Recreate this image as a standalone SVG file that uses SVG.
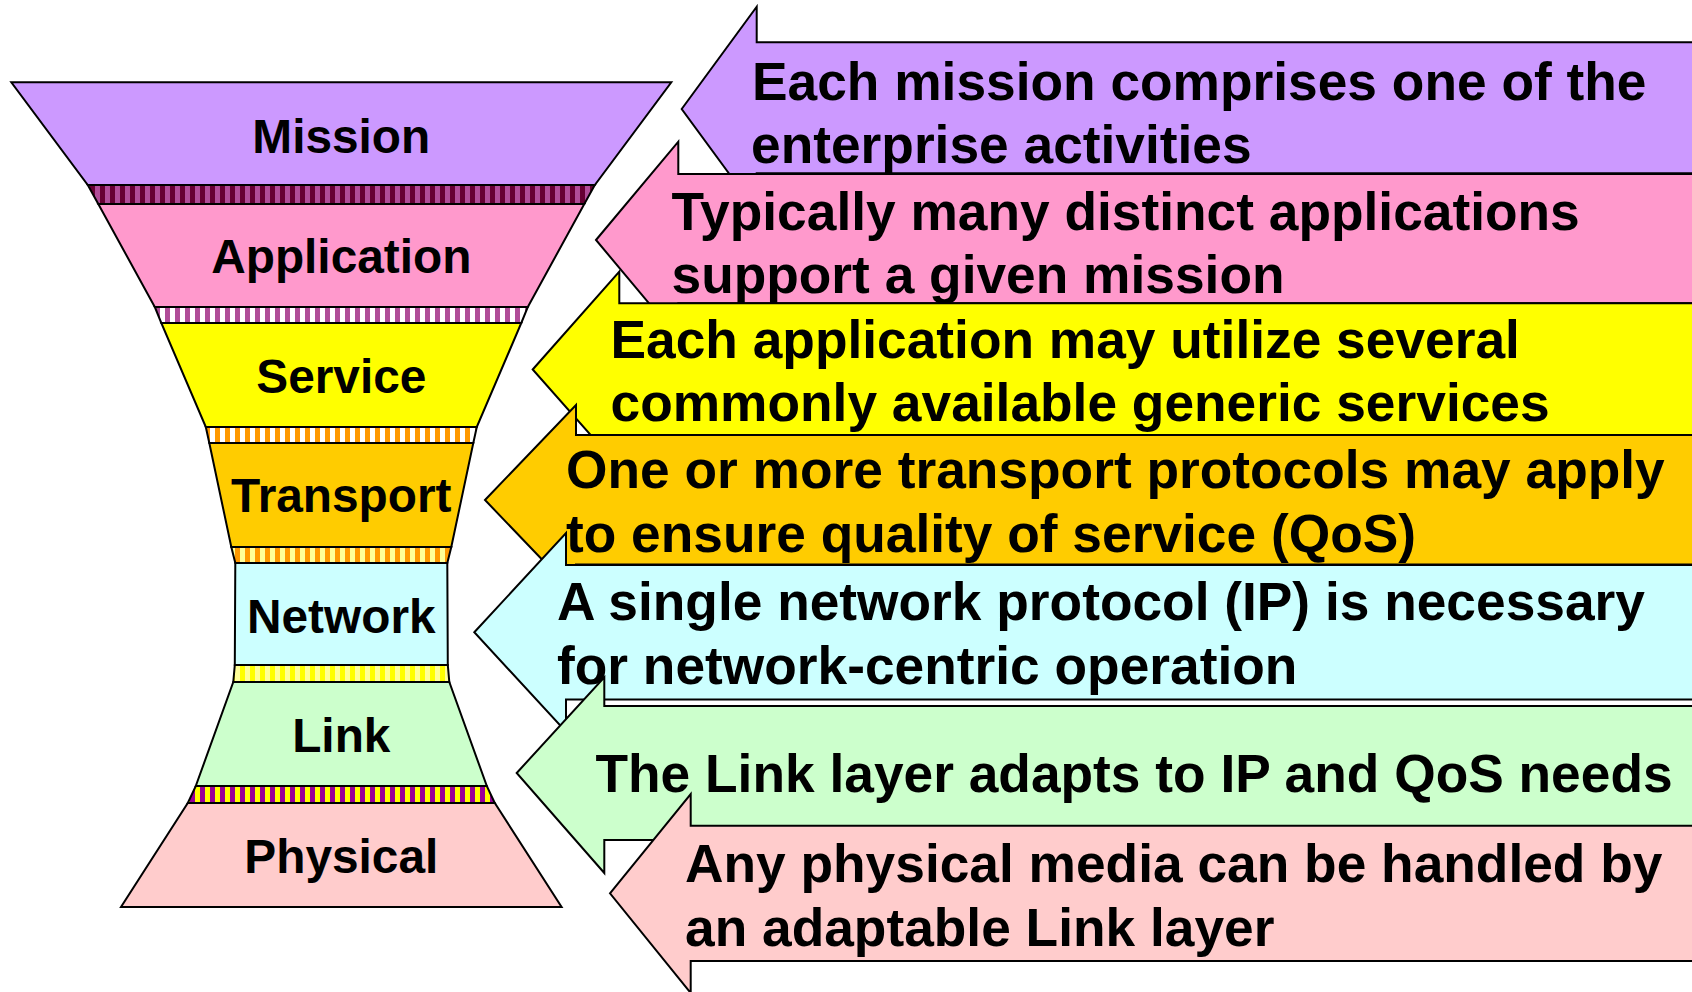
<svg xmlns="http://www.w3.org/2000/svg" width="1692" height="992" viewBox="0 0 1692 992">
<defs>
<style>
.ln{stroke:#000;stroke-width:2;stroke-linejoin:miter}
.lbl{font-family:"Liberation Sans",Arial,sans-serif;font-weight:bold;font-size:47.8px;fill:#000;text-anchor:middle}
.txt{font-family:"Liberation Sans",Arial,sans-serif;font-weight:bold;font-size:53.3px;fill:#000}
</style>
<pattern id="s1" patternUnits="userSpaceOnUse" width="10" height="10"><rect width="5" height="10" fill="#660033"/><rect x="5" width="5" height="10" fill="#B04C98"/></pattern>
<pattern id="s2" patternUnits="userSpaceOnUse" width="10" height="10"><rect width="5" height="10" fill="#FFFFFF"/><rect x="5" width="5" height="10" fill="#B04C98"/></pattern>
<pattern id="s3" patternUnits="userSpaceOnUse" width="10" height="10"><rect width="5" height="10" fill="#FFFFFF"/><rect x="5" width="5" height="10" fill="#FF9900"/></pattern>
<pattern id="s4" patternUnits="userSpaceOnUse" width="10" height="10"><rect width="5" height="10" fill="#FFFF99"/><rect x="5" width="5" height="10" fill="#FF9900"/></pattern>
<pattern id="s5" patternUnits="userSpaceOnUse" width="10" height="10"><rect width="5" height="10" fill="#FFFF00"/><rect x="5" width="5" height="10" fill="#FFFF99"/></pattern>
<pattern id="s6" patternUnits="userSpaceOnUse" width="10" height="10"><rect width="5" height="10" fill="#990099"/><rect x="5" width="5" height="10" fill="#FFFF00"/></pattern>
</defs>
<rect width="1692" height="992" fill="#FFFFFF"/>

<g id="funnel">
<g id="layer-mission"><polygon class="ln" fill="#CC99FF" points="11.3,82.3 671.3,82.3 594.8,185 87.8,185"/><text class="lbl" x="341.3" y="153">Mission</text></g>
<g id="band-1"><polygon class="ln" fill="url(#s1)" points="87.8,185 594.8,185 584.3,204 98.3,204"/></g>
<g id="layer-application"><polygon class="ln" fill="#FF99CC" points="98.3,204 584.3,204 527.8,307 154.8,307"/><text class="lbl" x="341.3" y="273">Application</text></g>
<g id="band-2"><polygon class="ln" fill="url(#s2)" points="154.8,307 527.8,307 521.3,323 161.3,323"/></g>
<g id="layer-service"><polygon class="ln" fill="#FFFF00" points="161.3,323 521.3,323 476.8,427 205.8,427"/><text class="lbl" x="341.3" y="392.7">Service</text></g>
<g id="band-3"><polygon class="ln" fill="url(#s3)" points="205.8,427 476.8,427 473.3,443 209.3,443"/></g>
<g id="layer-transport"><polygon class="ln" fill="#FFCC00" points="209.3,443 473.3,443 451.3,547 231.3,547"/><text class="lbl" x="341.3" y="511.7">Transport</text></g>
<g id="band-4"><polygon class="ln" fill="url(#s4)" points="231.3,547 451.3,547 447.3,563 235.3,563"/></g>
<g id="layer-network"><polygon class="ln" fill="#CCFFFF" points="235.3,563 447.3,563 447.8,665 234.8,665"/><text class="lbl" x="341.3" y="632.7">Network</text></g>
<g id="band-5"><polygon class="ln" fill="url(#s5)" points="234.8,665 447.8,665 449.3,682 233.3,682"/></g>
<g id="layer-link"><polygon class="ln" fill="#CCFFCC" points="233.3,682 449.3,682 486.8,786 195.8,786"/><text class="lbl" x="341.3" y="751.7">Link</text></g>
<g id="band-6"><polygon class="ln" fill="url(#s6)" points="195.8,786 486.8,786 494.8,803 187.8,803"/></g>
<g id="layer-physical"><polygon class="ln" fill="#FFCCCC" points="187.8,803 494.8,803 561.6,907 121,907"/><text class="lbl" x="341.3" y="872.7">Physical</text></g>
</g>

<g id="arrow-mission"><polygon class="ln" fill="#CC99FF" points="681.7,109 756.7,6.7 756.7,42.3 1710,42.3 1710,173.3 756.7,173.3 756.7,211.3"/>
<text class="txt" x="752" y="100">Each mission comprises one of the</text>
<text class="txt" x="751" y="162.7">enterprise activities</text></g>

<g id="arrow-application"><polygon class="ln" fill="#FF99CC" points="596,240 678.3,141.7 678.3,174 1710,174 1710,303.3 678.3,303.3 678.3,338.3"/>
<text class="txt" x="671.5" y="230">Typically many distinct applications</text>
<text class="txt" x="671.5" y="293.3">support a given mission</text></g>

<g id="arrow-service"><polygon class="ln" fill="#FFFF00" points="532.7,369.5 619.3,271.7 619.3,303.3 1710,303.3 1710,435 619.3,435 619.3,467.3"/>
<text class="txt" x="610.5" y="358.3">Each application may utilize several</text>
<text class="txt" x="610.5" y="421">commonly available generic services</text></g>

<g id="arrow-transport"><polygon class="ln" fill="#FFCC00" points="485,500 576,405 576,435 1710,435 1710,564.5 576,564.5 576,595"/>
<text class="txt" x="566" y="487.5">One or more transport protocols may apply</text>
<text class="txt" x="566" y="551.7">to ensure quality of service (QoS)</text></g>

<g id="arrow-network"><polygon class="ln" fill="#CCFFFF" points="474.3,632.3 566,533 566,565 1710,565 1710,699.5 566,699.5 566,731.6"/>
<text class="txt" x="557" y="620">A single network protocol (IP) is necessary</text>
<text class="txt" x="557" y="684">for network-centric operation</text></g>

<g id="arrow-link"><polygon class="ln" fill="#CCFFCC" points="516.7,773 604.3,677.3 604.3,706 1710,706 1710,840 604.3,840 604.3,873"/>
<text class="txt" x="595.5" y="792">The Link layer adapts to IP and QoS needs</text></g>

<g id="arrow-physical"><polygon class="ln" fill="#FFCCCC" points="610,893.3 690.7,794 690.7,825.7 1710,825.7 1710,961 690.7,961 690.7,993"/>
<text class="txt" x="685" y="881.5">Any physical media can be handled by</text>
<text class="txt" x="685" y="945.5">an adaptable Link layer</text></g>

<g id="connectors"></g>
</svg>
